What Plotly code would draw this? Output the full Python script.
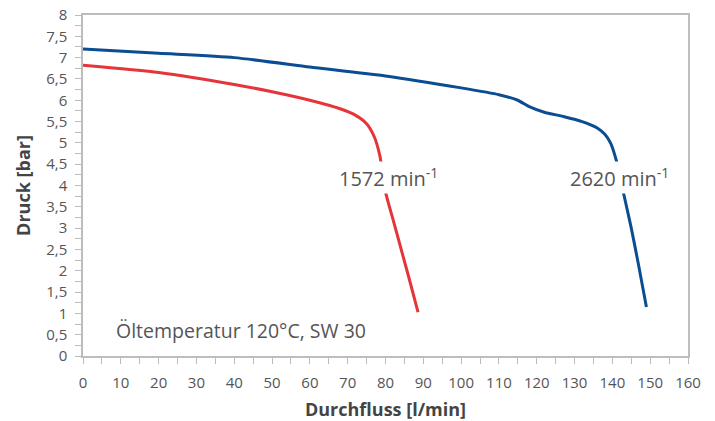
import plotly.graph_objects as go

# Data
blue_x = [0, 20, 40, 60, 80, 100, 110, 115, 118, 122, 127, 132, 136, 138, 139.5, 141, 143, 145, 147, 149]
blue_y = [7.2, 7.1, 7.0, 6.78, 6.57, 6.29, 6.13, 6.0, 5.85, 5.72, 5.62, 5.5, 5.35, 5.2, 5.0, 4.6, 3.8, 3.0, 2.1, 1.15]

red_x = [0, 20, 40, 50, 60, 68, 72, 75, 77, 78.5, 80, 82, 84, 86, 88.6]
red_y = [6.82, 6.65, 6.37, 6.2, 6.0, 5.8, 5.65, 5.45, 5.15, 4.7, 3.85, 3.2, 2.55, 1.9, 1.03]

y_ticks = [i * 0.5 for i in range(17)]
y_labels = [("%g" % v).replace(".", ",") for v in y_ticks]

FONT = "Open Sans"
GRAY = "#555555"
AXIS = "#bdbdbd"

fig = go.Figure()
fig.add_trace(go.Scatter(x=red_x, y=red_y, mode="lines", line=dict(color="#e5343a", width=3, shape="spline", smoothing=0.6), showlegend=False))
fig.add_trace(go.Scatter(x=blue_x, y=blue_y, mode="lines", line=dict(color="#0b4d93", width=3, shape="spline", smoothing=0.6), showlegend=False))

fig.add_annotation(x=80.7, y=4.18, text="1572 min<sup>-1</sup>", showarrow=False, bgcolor="white",
                   font=dict(family=FONT, size=20, color=GRAY))
fig.add_annotation(x=142, y=4.18, text="2620 min<sup>-1</sup>", showarrow=False, bgcolor="white",
                   font=dict(family=FONT, size=20, color=GRAY))
fig.add_annotation(x=41.8, y=0.6, text="Öltemperatur 120°C, SW 30", showarrow=False,
                   font=dict(family=FONT, size=19.5, color=GRAY))

fig.update_xaxes(range=[0, 160], dtick=10, tick0=0, ticks="outside", ticklen=6, tickcolor=AXIS, automargin=False,
                 ticklabelstandoff=6, ticklabeloverflow="allow",
                 showline=True, linecolor=AXIS, linewidth=1.5, mirror=True, showgrid=False, zeroline=False,
                 minor=dict(dtick=5, ticks="outside", ticklen=6, tickcolor=AXIS, showgrid=False),
                 tickfont=dict(family=FONT, size=15, color=GRAY),
                 title=dict(text="<b>Durchfluss [l/min]</b>", font=dict(family=FONT, size=18, color="#444444"), standoff=22))
fig.update_yaxes(range=[0, 8], tickvals=y_ticks, ticktext=y_labels, ticks="outside", ticklen=6, tickcolor=AXIS, automargin=False,
                 ticklabelstandoff=5, ticklabeloverflow="allow",
                 showline=True, linecolor=AXIS, linewidth=1.5, mirror=True, showgrid=False, zeroline=False,
                 minor=dict(dtick=0.25, ticks="outside", ticklen=6, tickcolor=AXIS, showgrid=False),
                 tickfont=dict(family=FONT, size=15, color=GRAY),
                 title=dict(text="<b>Druck [bar]</b>", font=dict(family=FONT, size=18, color="#444444"), standoff=11))

# the page body has an 8px default margin, so the figure is 8px smaller each way
fig.update_layout(width=707, height=413, margin=dict(l=75, r=27, t=7, b=65),
                  plot_bgcolor="white", paper_bgcolor="white", font=dict(family=FONT))

fig.write_html("out.html")
